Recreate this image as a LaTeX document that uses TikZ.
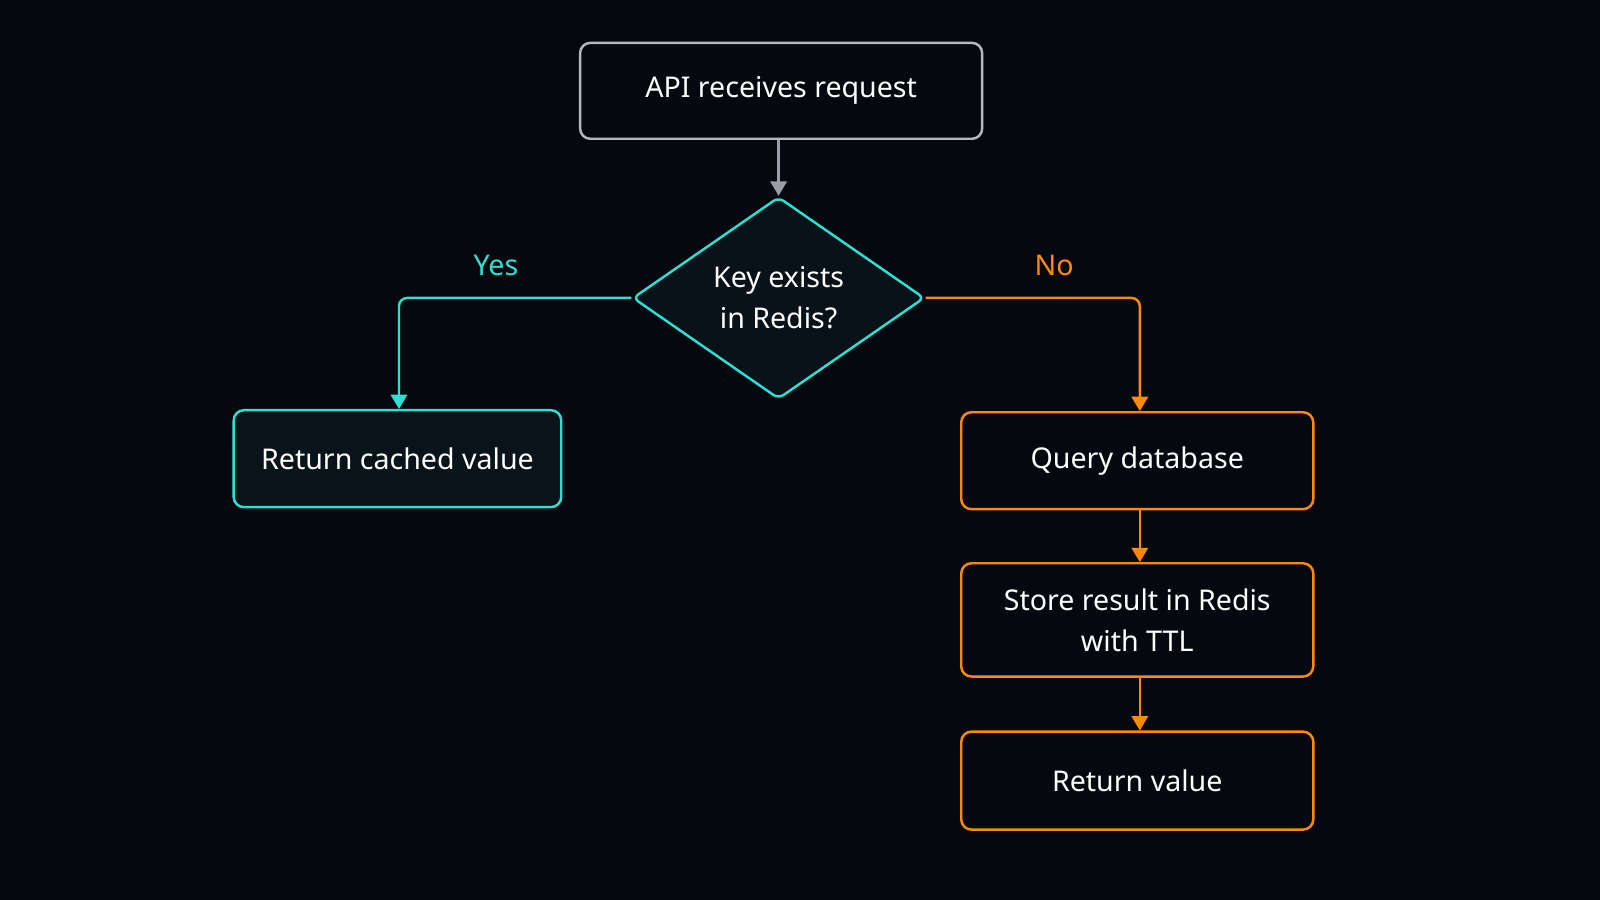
\documentclass[tikz,border=0pt]{standalone}
\usepackage{fontspec}
\setmainfont{Noto Sans}
\usetikzlibrary{shapes.geometric,arrows.meta}
\definecolor{bg}{HTML}{05080F}
\definecolor{teal}{HTML}{2EE0D2}
\definecolor{orng}{HTML}{FF8A0A}
\definecolor{gry}{HTML}{B4B8C0}
\definecolor{gryarr}{HTML}{9A9EA8}
\tikzset{
  box/.style={draw, rounded corners=5pt, line width=1.2pt, text=white, font=\fontsize{14}{20}\selectfont, align=center, inner sep=0pt},
  conn/.style={line width=1.2pt, rounded corners=4pt, -{Triangle[width=8pt,length=7pt]}},
  lbl/.style={font=\fontsize{14}{18}\selectfont}
}
\begin{document}
\begin{tikzpicture}[x=0.5pt,y=-0.5pt]
\fill[bg] (0,0) rectangle (1568,882);
\useasboundingbox (0,0) rectangle (1568,882);
\node[box, draw=gry, fill=bg, minimum width=197pt, minimum height=47pt] (api) at (765.5,89) {API receives request};
\node[box, draw=teal, fill={rgb,255:red,8;green,18;blue,24}, shape=diamond, rounded corners=3pt, minimum width=143pt, minimum height=99pt] (key) at (763,292) {Key exists\\in Redis?};
\node[box, draw=teal, fill={rgb,255:red,8;green,20;blue,26}, minimum width=160.5pt, minimum height=47.5pt] (ret) at (389.5,449.5) {Return cached value};
\node[box, draw=orng, fill=bg, minimum width=172.5pt, minimum height=47.5pt] (qdb) at (1114.5,451.5) {Query database};
\node[box, draw=orng, fill=bg, minimum width=172.5pt, minimum height=55.5pt] (store) at (1114.5,607.5) {Store result in Redis\\with TTL};
\node[box, draw=orng, fill=bg, minimum width=172.5pt, minimum height=48pt] (rv) at (1114.5,765) {Return value};
\draw[conn, gryarr] (api.south -| key.north) -- (key.north);
\draw[conn, teal] (key.west) -| (ret.north -| 391,0);
\draw[conn, orng] (key.east) -| (qdb.north -| 1117,0);
\draw[conn, orng] (qdb.south -| 1117,0) -- (store.north -| 1117,0);
\draw[conn, orng] (store.south -| 1117,0) -- (rv.north -| 1117,0);
\node[lbl, text=teal] (yes) at (486,260) {Yes};
\node[lbl, text=orng] (no) at (1033,260) {No};
\end{tikzpicture}
\end{document}
